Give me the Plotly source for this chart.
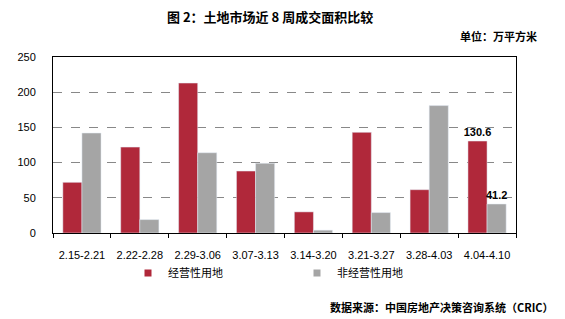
import plotly.graph_objects as go

weeks = ["2.15-2.21", "2.22-2.28", "2.29-3.06", "3.07-3.13", "3.14-3.20", "3.21-3.27", "3.28-4.03", "4.04-4.10"]
commercial = [72, 122, 213, 88, 30, 143, 61.5, 130.6]
noncommercial = [142, 19, 114, 99, 4, 29, 181, 41.2]
series_names = ["经营性用地", "非经营性用地"]
y_ticks = [0, 50, 100, 150, 200, 250]

RED = "#B0283A"
GRAY = "#A5A5A5"
CJK = "Noto Sans CJK SC"
LAT = "Liberation Sans"

def last_label(vals):
    return [""] * (len(vals) - 1) + [f"{vals[-1]}"]

fig = go.Figure()
for vals, name, col in [(commercial, series_names[0], RED), (noncommercial, series_names[1], GRAY)]:
    fig.add_trace(go.Bar(
        x=weeks, y=vals, name=name, marker_color=col, showlegend=False,
        text=last_label(vals), textposition="outside", cliponaxis=False, constraintext="none",
        textfont=dict(family=LAT, size=11, color="black", weight="bold"),
    ))
    # legend entry with a small square swatch
    fig.add_trace(go.Scatter(
        x=[None], y=[None], mode="markers", name=name,
        marker=dict(symbol="square", size=7, color=col), showlegend=True,
    ))

fig.update_layout(
    width=565, height=319,
    margin=dict(l=53, r=49, t=57, b=86),
    paper_bgcolor="white", plot_bgcolor="white",
    barmode="group", bargap=0.34, bargroupgap=0,
    font=dict(family=LAT, size=11, color="black"),
    showlegend=True,
    legend=dict(orientation="h", x=(128 - 53) / 463, y=(233 - 273) / 176, xanchor="left", yanchor="middle",
                font=dict(family=CJK, size=11, color="black"),
                entrywidth=124, entrywidthmode="pixels", itemwidth=30, bgcolor="rgba(0,0,0,0)"),
    xaxis=dict(type="category", showline=True, linecolor="black", linewidth=1, mirror=True,
               ticks="outside", tickson="boundaries", ticklen=4, tickcolor="black",
               tickfont=dict(family=LAT, size=11, color="black"), showgrid=False,
               ticklabelstandoff=12),
    yaxis=dict(range=[0, 250], tickvals=y_ticks, showline=True, linecolor="black", linewidth=1,
               mirror=True, ticks="", showgrid=True, gridcolor="#888888", griddash="dash",
               gridwidth=1, zeroline=False,
               tickfont=dict(family=LAT, size=11, color="black"), ticklabelstandoff=14),
    annotations=[
        dict(text="图 2：土地市场近 8 周成交面积比较", xref="paper", yref="paper",
             x=(270 - 53) / 463, y=(233 - 16) / 176, yanchor="middle", xanchor="center",
             showarrow=False, font=dict(family=CJK, size=13, color="black", weight="bold")),
        dict(text="单位：万平方米", xref="paper", yref="paper",
             x=(539 - 53) / 463, y=(233 - 36) / 176, xanchor="right", yanchor="middle",
             showarrow=False, font=dict(family=CJK, size=11, color="black", weight="bold")),
        dict(text="数据来源：中国房地产决策咨询系统（CRIC）", xref="paper", yref="paper",
             x=(556 - 53) / 463, y=(233 - 307) / 176, xanchor="right", yanchor="middle",
             showarrow=False, font=dict(family=CJK, size=11, color="black", weight="bold")),
    ],
)

fig.write_html("out.html")
